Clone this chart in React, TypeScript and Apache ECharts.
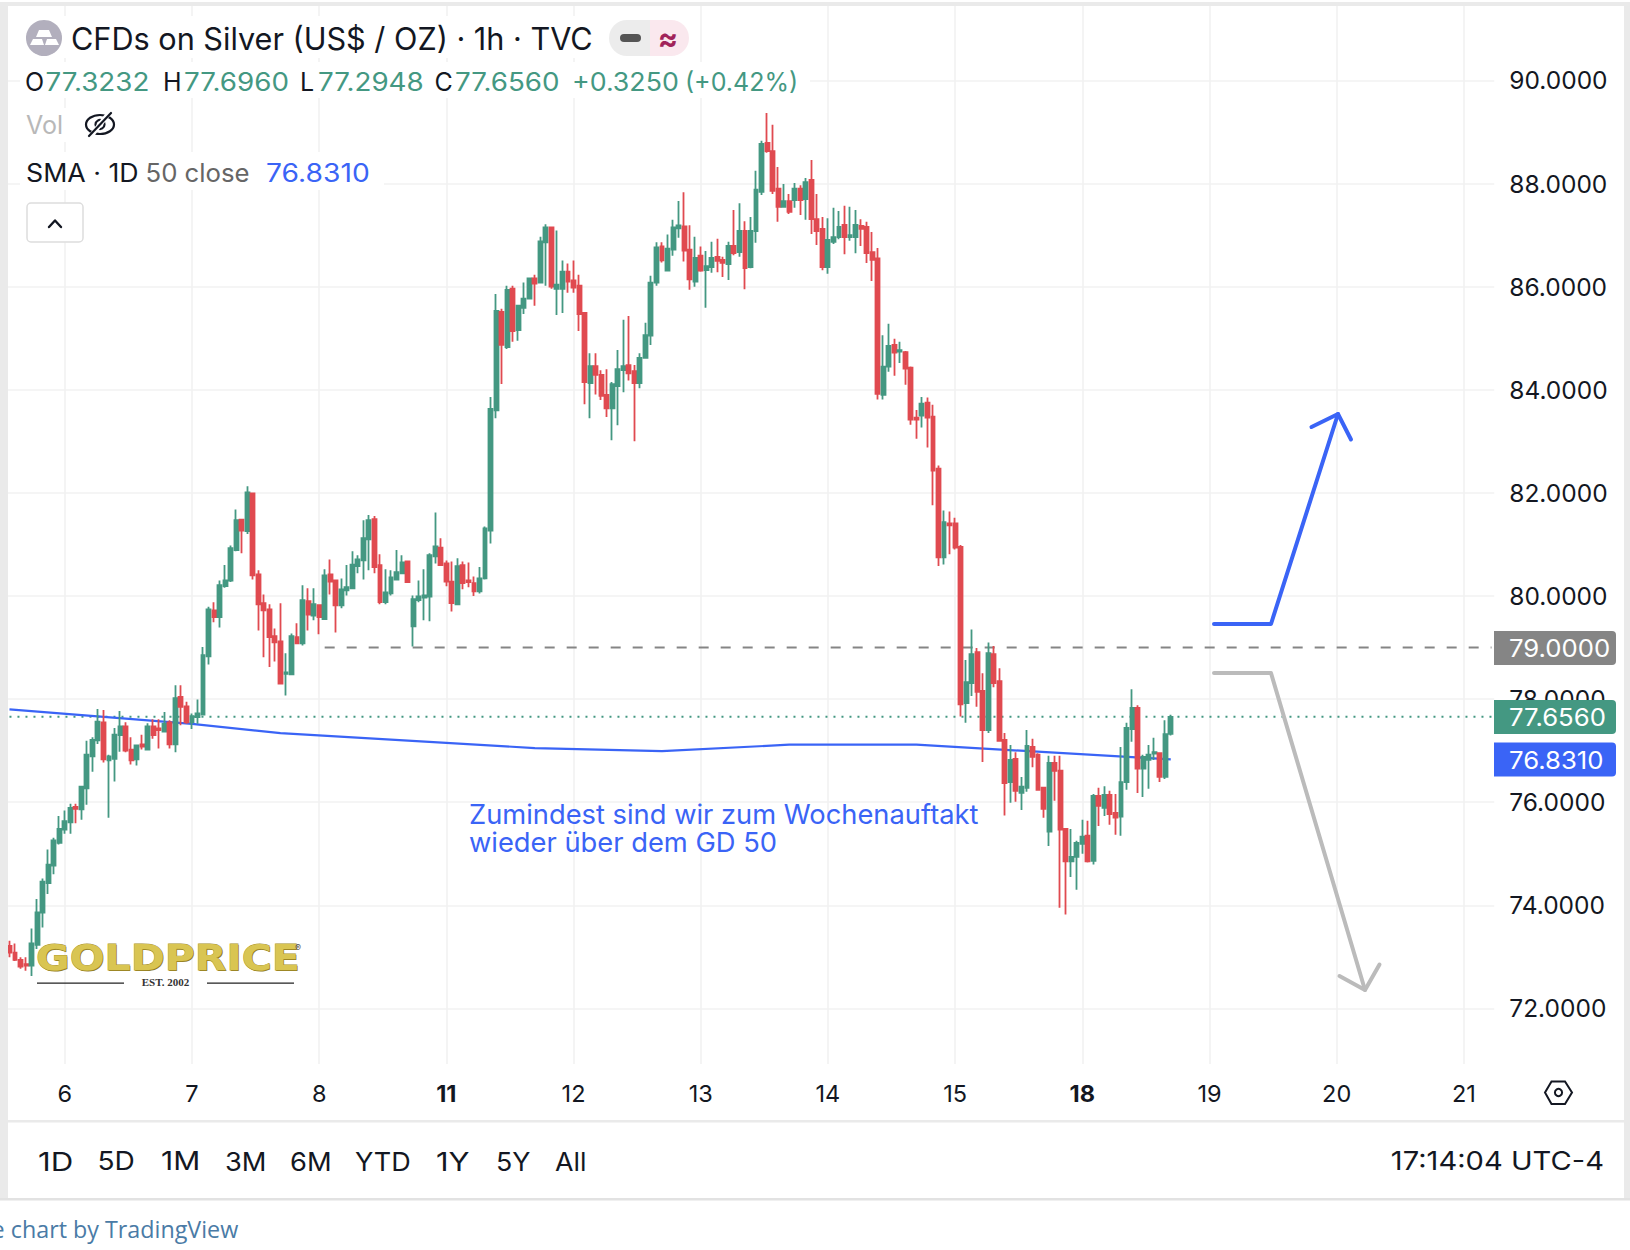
import React, { useEffect, useRef } from "react";
import * as echarts from "echarts";

const dayLabels = ["6", "7", "8", "11", "12", "13", "14", "15", "18", "19", "20", "21"];
const boldDays = ["11", "18"];
const priceTicks = [72, 74, 76, 78, 80, 82, 84, 86, 88, 90];

const opens = [
  73.21,73.08,72.94,72.86,72.83,73.23,73.86,74.43,74.77,75.21,
  75.47,75.61,75.91,75.86,76.27,76.89,77.20,77.55,76.81,76.84,
  77.30,77.47,77.02,76.83,77.12,77.02,77.47,77.43,77.37,77.55,
  77.12,78.04,77.86,77.55,77.65,77.70,78.83,79.72,79.59,80.19,
  80.30,80.89,81.48,81.26,81.99,80.42,79.86,79.74,79.22,79.12,
  78.49,78.48,79.20,79.08,79.90,79.62,79.82,79.55,80.42,80.30,
  79.82,80.11,80.15,80.58,80.69,81.10,81.49,80.60,79.88,80.05,
  80.32,80.44,80.67,79.41,79.92,79.97,79.99,80.77,80.94,80.63,
  80.28,79.84,80.60,80.30,80.25,80.09,80.34,81.27,83.60,85.51,
  84.83,85.96,85.16,85.59,85.77,86.16,86.08,86.86,87.15,85.96,
  85.96,86.29,86.12,86.02,85.49,84.13,84.46,84.29,83.90,83.64,
  84.07,84.38,84.48,84.36,84.13,84.62,85.05,86.08,86.78,86.31,
  86.72,87.13,87.17,86.72,86.10,86.60,86.32,86.38,86.58,86.52,
  86.44,86.79,86.67,87.08,86.38,87.08,87.84,88.79,88.63,87.90,
  87.55,87.66,87.68,87.90,87.70,88.07,87.31,87.12,86.38,86.87,
  86.96,87.20,86.96,86.96,87.18,87.16,86.67,86.55,83.90,84.45,
  84.87,84.74,84.73,84.43,83.46,83.50,83.75,83.48,82.47,80.75,
  81.41,81.41,80.95,77.92,78.31,78.91,78.16,77.40,78.87,78.35,
  77.21,76.39,76.84,76.18,76.28,77.07,76.92,76.28,75.43,76.76,
  76.61,75.48,74.85,74.94,75.19,75.35,74.86,76.12,75.89,76.14,
  75.79,75.72,76.39,77.42,77.83,76.65,76.82,76.94,76.95,76.49,
  77.3232,
];
const highs = [
  73.31,73.26,72.99,72.99,73.55,74.12,74.52,75.08,75.31,75.73,
  75.84,75.97,75.97,76.32,77.19,77.26,77.81,77.79,76.92,77.44,
  77.77,77.55,77.26,77.12,77.31,77.53,77.61,77.61,77.75,77.59,
  78.27,78.27,77.95,77.72,77.99,79.01,79.79,79.88,80.30,80.60,
  80.98,81.68,81.48,82.13,82.00,80.50,80.03,79.84,79.37,79.86,
  78.89,79.27,79.47,80.21,80.15,80.15,79.82,80.52,80.71,80.32,
  80.34,80.60,80.87,80.79,81.47,81.57,81.55,80.81,80.52,80.50,
  80.89,80.79,80.69,80.01,80.30,80.52,80.83,81.62,81.12,80.69,
  80.67,80.73,80.67,80.65,80.38,80.56,81.35,83.86,85.86,85.57,
  86.02,86.02,85.65,86.08,86.18,86.23,86.97,87.21,87.15,87.09,
  86.51,86.45,86.51,86.23,85.49,84.71,84.71,84.38,84.40,84.15,
  84.77,85.36,85.43,84.48,84.71,85.30,86.21,86.86,86.86,87.01,
  87.30,87.66,87.83,87.19,86.97,86.78,86.69,86.87,86.93,86.58,
  86.87,87.49,87.62,87.27,87.35,88.25,88.83,89.37,89.14,88.32,
  87.99,87.80,88.01,87.97,88.11,88.46,87.80,87.35,87.33,87.53,
  87.47,87.57,87.55,87.49,87.31,87.26,87.06,86.75,85.06,85.28,
  84.99,84.93,84.75,84.45,83.61,83.86,83.85,83.71,82.53,81.66,
  81.64,81.52,80.99,78.76,79.35,78.99,78.50,79.10,79.03,78.60,
  77.34,77.11,76.97,76.49,77.40,77.23,76.95,76.28,76.90,76.90,
  76.90,75.48,75.48,75.25,75.66,75.64,76.16,76.28,76.31,76.22,
  76.16,77.07,77.54,78.19,77.88,76.92,77.11,77.25,76.97,77.59,
  77.696,
];
const lows = [
  72.99,72.92,72.77,72.73,72.63,73.15,73.57,74.22,74.60,75.18,
  75.39,75.39,75.59,75.66,75.95,76.59,77.13,76.77,75.70,76.40,
  76.98,76.97,76.73,76.71,77.02,77.02,77.23,77.04,77.35,77.04,
  76.97,77.49,77.52,77.42,77.52,77.68,78.67,79.49,79.39,80.16,
  80.27,80.87,80.83,81.20,80.32,79.33,78.81,78.62,78.73,78.30,
  78.07,78.46,79.08,79.04,79.33,79.53,79.26,79.55,80.03,79.29,
  79.76,80.01,80.15,80.44,80.32,80.50,80.44,79.84,79.84,80.01,
  80.32,80.42,80.25,79.02,79.88,79.53,79.51,80.63,80.60,80.19,
  79.70,79.82,80.13,80.17,80.00,80.05,80.32,81.02,83.45,84.11,
  84.79,84.93,84.95,85.47,85.75,85.63,86.08,86.02,85.96,85.45,
  85.49,85.88,85.88,85.14,83.72,83.45,83.91,83.80,83.47,83.02,
  83.31,83.95,84.18,83.00,84.03,84.60,84.87,86.02,86.47,86.31,
  86.60,86.95,86.49,85.94,86.00,86.29,85.59,86.27,86.28,86.19,
  86.13,86.61,86.58,85.95,86.36,86.85,87.78,88.60,87.80,87.26,
  87.53,87.41,87.53,87.39,87.30,87.02,86.81,86.32,86.25,86.83,
  86.92,86.63,86.89,86.65,86.79,86.46,86.11,83.81,83.81,84.35,
  84.27,84.52,84.10,83.32,83.05,83.27,82.88,81.76,80.58,80.61,
  80.81,80.90,77.66,77.54,78.06,77.85,76.78,77.34,78.23,77.17,
  75.74,75.99,76.01,75.85,76.20,76.68,76.24,75.70,75.15,76.03,
  73.95,73.82,74.55,74.30,75.00,74.83,74.79,75.54,75.73,75.56,
  75.37,75.35,76.24,77.17,76.18,76.10,76.26,76.82,76.39,76.45,
  77.2948,
];
const closes = [
  73.08,72.94,72.81,72.83,73.26,73.86,74.46,74.79,75.26,75.48,
  75.63,75.89,75.87,76.30,76.92,77.21,77.56,76.83,76.89,77.31,
  77.47,77.00,76.81,77.10,77.08,77.47,77.30,77.40,77.52,77.12,
  78.02,77.85,77.55,77.67,77.72,78.85,79.74,79.59,80.21,80.30,
  80.93,81.47,81.27,82.01,80.40,79.84,79.72,79.20,79.10,78.30,
  78.52,79.22,79.08,79.92,79.64,79.84,79.59,80.40,80.28,79.82,
  80.13,80.17,80.61,80.71,81.12,81.47,80.56,79.88,80.07,80.36,
  80.46,80.65,80.27,79.94,79.99,80.01,80.79,80.96,80.60,80.28,
  79.86,80.58,80.25,80.27,80.09,80.34,81.31,83.63,85.53,84.87,
  85.94,85.14,85.63,85.77,86.16,86.06,86.88,87.15,86.00,86.04,
  86.29,86.10,85.98,85.47,84.15,84.46,84.29,83.88,83.64,84.11,
  84.40,84.46,84.32,84.13,84.62,85.06,86.08,86.76,86.51,86.74,
  87.15,87.19,86.70,86.14,86.56,86.31,86.40,86.56,86.50,86.46,
  86.79,86.65,87.08,86.36,87.08,87.88,88.77,88.63,87.86,87.55,
  87.66,87.45,87.90,87.68,88.03,87.31,87.08,86.38,86.91,86.96,
  87.16,86.96,87.00,87.20,87.12,86.65,86.52,83.92,84.45,84.85,
  84.72,84.77,84.41,83.42,83.42,83.73,83.46,82.43,80.75,81.43,
  81.37,80.94,77.90,78.33,78.87,78.14,77.40,78.89,78.31,77.19,
  76.37,76.82,76.22,76.30,77.09,76.88,76.24,75.87,76.76,76.61,
  75.47,74.85,74.94,75.21,75.33,74.85,76.12,75.93,76.14,75.77,
  75.70,76.39,77.44,77.83,76.65,76.88,76.92,76.97,76.49,77.32,
  77.656,
];

const smaBars = [0, 33, 49, 95, 118, 141, 164, 210];
const smaValues = [77.8, 77.52, 77.34, 77.05, 76.99, 77.115, 77.115, 76.831];
const resistance = 79;
const lastClose = 77.656;
const resistanceFromBar = 57;
const lastSlot = 268;

const rangeButtons = ["1D", "5D", "1M", "3M", "6M", "YTD", "1Y", "5Y", "All"];
const rangeX = [38, 97.5, 161, 225, 290, 355, 436, 496, 555];
const rangeStretch = [1.2, 1.08, 1.15, 1.05, 1.05, 1.04, 1.19, 1.03, 1.03];

const GREEN = "#449882";
const RED = "#E04A50";
const BLUE = "#3A64F6";
const GRAY_LEVEL = "#858585";
const FRAME = "#EAEAEA";
const GRID = "#F2F2F2";
const INK = "#131722";
const FONT = "Inter";

const SLOTS = 269;
const BARS_PER_DAY = 23;
const FIRST_DAY_BAR = 10;

function buildCategories(): string[] {
  const cats: string[] = new Array(SLOTS).fill("");
  dayLabels.forEach((d, i) => {
    cats[FIRST_DAY_BAR + i * BARS_PER_DAY] = d;
  });
  return cats;
}

function txt(x: number, y: number, text: string, fill: string, size: number, extra: any = {}) {
  return {
    type: "text",
    x,
    y,
    z: 60,
    silent: true,
    style: {
      text,
      fill,
      font: `${extra.weight || "normal"} ${size}px ${extra.family || FONT}`,
      textAlign: extra.align || "left",
      textVerticalAlign: "middle",
    },
    ...(extra.scaleX ? { scaleX: extra.scaleX, originX: 0, originY: 0 } : {}),
  };
}
function box(x: number, y: number, width: number, height: number, fill: string, z = 50, r: any = 0) {
  return { type: "rect", z, silent: true, shape: { x, y, width, height, r }, style: { fill } };
}
function poly(points: number[][], stroke: string, lineWidth: number, z = 55) {
  return {
    type: "polyline",
    z,
    silent: true,
    shape: { points },
    style: { stroke, lineWidth, fill: "none", lineCap: "round", lineJoin: "round" },
  };
}

function buildGraphics() {
  const g: any[] = [];
  // legend backgrounds
  g.push(box(20, 62, 790, 36, "#fff"));
  g.push(box(20, 152, 364, 38, "#fff"));
  g.push(box(20, 108, 110, 34, "#fff"));
  g.push(box(20, 16, 680, 42, "#fff"));

  // frame
  g.push(box(0, 2, 1630, 4, FRAME, 90));
  g.push(box(0, 2, 8, 1198, FRAME, 90));
  g.push(box(1624, 2, 6, 1198, FRAME, 90));
  g.push(box(8, 1120, 1616, 2.5, FRAME, 90));
  g.push(box(0, 1198, 1630, 2.5, "#E2E2E2", 90));

  // symbol icon
  g.push({ type: "circle", z: 55, silent: true, shape: { cx: 44, cy: 38, r: 18 }, style: { fill: "#B2AFBD" } });
  g.push({ type: "polygon", z: 56, silent: true, shape: { points: [[39, 30], [49, 30], [52, 37], [36, 37]] }, style: { fill: "#fff" } });
  g.push({ type: "polygon", z: 56, silent: true, shape: { points: [[33, 39], [42, 39], [44, 45], [30, 45]] }, style: { fill: "#fff" } });
  g.push({ type: "polygon", z: 56, silent: true, shape: { points: [[47, 39], [56, 39], [59, 45], [45, 45]] }, style: { fill: "#fff" } });

  g.push(txt(71, 38, "CFDs on Silver (US$ / OZ) · 1h · TVC", INK, 31, { scaleX: 0.988 }));

  // status pill
  g.push(box(609, 20, 41, 36, "#ECECEC", 55, [18, 0, 0, 18]));
  g.push(box(650, 20, 39, 36, "#FAE8EE", 55, [0, 18, 18, 0]));
  g.push(box(620, 34, 21, 8, "#555555", 56, 4));
  g.push(txt(668, 38, "≈", "#A1235A", 30, { align: "center", weight: "bold" }));

  // OHLC row
  const rowY = 82;
  const wide = { scaleX: 1.11 };
  g.push(txt(25, rowY, "O", INK, 25));
  g.push(txt(45.5, rowY, "77.3232", GREEN, 25, wide));
  g.push(txt(163, rowY, "H", INK, 25));
  g.push(txt(184, rowY, "77.6960", GREEN, 25, wide));
  g.push(txt(300, rowY, "L", INK, 25));
  g.push(txt(318, rowY, "77.2948", GREEN, 25, wide));
  g.push(txt(434.5, rowY, "C", INK, 25));
  g.push(txt(455, rowY, "77.6560", GREEN, 25, wide));
  g.push(txt(572, rowY, "+0.3250", GREEN, 25, { scaleX: 1.07 }));
  g.push(txt(685, rowY, "(+0.42%)", GREEN, 25));

  // Vol row
  g.push(txt(26, 125, "Vol", "#B8B8B8", 25));
  g.push({ type: "ellipse", z: 56, silent: true, shape: { cx: 100, cy: 124.5, rx: 14, ry: 9.5 }, style: { fill: "none", stroke: INK, lineWidth: 2.2 } });
  g.push({ type: "circle", z: 56, silent: true, shape: { cx: 100, cy: 124.5, r: 4.5 }, style: { fill: "none", stroke: INK, lineWidth: 2.2 } });
  g.push({ type: "line", z: 57, silent: true, shape: { x1: 109, y1: 113, x2: 91, y2: 136 }, style: { stroke: "#fff", lineWidth: 5 } });
  g.push({ type: "line", z: 58, silent: true, shape: { x1: 111, y1: 113, x2: 89, y2: 136 }, style: { stroke: INK, lineWidth: 2.2, lineCap: "round" } });

  // SMA row
  g.push(txt(26, 173, "SMA · 1D", INK, 25, { scaleX: 1.07 }));
  g.push(txt(145.5, 173, "50 close", "#666666", 25, { scaleX: 1.03 }));
  g.push(txt(266, 173, "76.8310", BLUE, 25, { scaleX: 1.13 }));

  // collapse button
  g.push({ type: "rect", z: 55, silent: true, shape: { x: 27, y: 203, width: 56, height: 39, r: 4 }, style: { fill: "#fff", stroke: "#DDDDDD", lineWidth: 1.5 } });
  g.push(poly([[49, 227], [55, 220.5], [61, 227]], INK, 2.4, 56));

  // annotation
  g.push(txt(469, 814, "Zumindest sind wir zum Wochenauftakt", BLUE, 27.3));
  g.push(txt(469, 842, "wieder über dem GD 50", BLUE, 27.3));

  // arrows
  g.push(poly([[1214, 624], [1271, 624], [1338, 414]], BLUE, 4));
  g.push(poly([[1311.5, 427], [1338, 414], [1351, 439.5]], BLUE, 4));
  g.push(poly([[1214, 673], [1271, 673], [1365, 990]], "#BBBBBB", 4));
  g.push(poly([[1339.5, 976], [1365, 990], [1379.5, 964.5]], "#BBBBBB", 4));

  // price tags
  const tags: [number, string, string][] = [
    [631, "79.0000", GRAY_LEVEL],
    [700, "77.6560", GREEN],
    [742.5, "76.8310", BLUE],
  ];
  tags.forEach(([y, t, c]) => {
    g.push(box(1494, y, 122, 34, c, 60, [0, 4, 4, 0]));
    const el: any = txt(1509, y + 17.5, t, "#fff", 24.5, { scaleX: 1.05 });
    el.z = 61;
    g.push(el);
  });

  // settings hexagon
  g.push({
    type: "polygon",
    z: 55,
    silent: true,
    shape: { points: [[1545, 1092.5], [1551.5, 1081.5], [1565, 1081.5], [1572, 1092.5], [1565, 1104], [1551.5, 1104]] },
    style: { fill: "none", stroke: INK, lineWidth: 2 },
  });
  g.push({ type: "circle", z: 55, silent: true, shape: { cx: 1558.5, cy: 1092.5, r: 3.6 }, style: { fill: "none", stroke: INK, lineWidth: 2 } });

  // range bar
  rangeButtons.forEach((t, i) => g.push(txt(rangeX[i], 1161, t, INK, 26, { scaleX: rangeStretch[i] })));
  g.push(txt(1604, 1161, "17:14:04 UTC-4", INK, 26, { align: "right", scaleX: 1.12 }));
  g.push(txt(-8.4, 1229, "e chart by TradingView", "#4A7BA6", 23.3, { family: "'Open Sans'" }));

  // goldprice logo: layered text gives the metallic edge
  const logo = (dx: number, dy: number, fill: string, z: number, stroke?: string) => ({
    type: "text",
    x: 36 + dx,
    y: 957 + dy,
    z,
    silent: true,
    scaleX: 1.14,
    style: {
      text: "GOLDPRICE",
      font: "bold 36px 'DejaVu Sans'",
      textVerticalAlign: "middle",
      fill,
      ...(stroke ? { stroke, lineWidth: 0.8 } : {}),
    },
  });
  g.push(logo(0.8, 1.2, "#8E7A1E", 40));
  g.push(logo(0, 0, "#D9C552", 41, "#A8922C"));
  g.push(txt(298, 947, "®", "#555555", 9, { align: "center" }));
  g.push(box(37, 982.5, 87, 1.3, "#222222", 40));
  g.push(box(207, 982.5, 87, 1.3, "#222222", 40));
  g.push(txt(165.5, 982, "EST. 2002", "#333333", 11, { align: "center", family: "'Liberation Serif'", weight: "bold" }));
  return g;
}

export default function App() {
  const ref = useRef<HTMLDivElement | null>(null);
  useEffect(() => {
    document.body.style.margin = "0";
    document.body.style.overflow = "hidden";
    const chart = echarts.init(ref.current!, undefined, { renderer: "svg" });
    const bars = opens.map((o, i) => [o, closes[i], lows[i], highs[i]]);
    const showDay = (_i: number, v: string) => v !== "";
    chart.setOption({
      animation: false,
      backgroundColor: "#fff",
      grid: { left: 6.7, top: 6, width: 5.53 * SLOTS, height: 1058, containLabel: false },
      xAxis: {
        type: "category",
        data: buildCategories(),
        boundaryGap: true,
        axisLine: { show: false },
        axisTick: { show: false },
        axisLabel: {
          interval: showDay,
          margin: 17,
          hideOverlap: false,
          color: INK,
          fontFamily: FONT,
          fontSize: 23.5,
          formatter: (v: string) => (boldDays.includes(v) ? `{b|${v}}` : v),
          rich: { b: { fontWeight: "bold", fontFamily: FONT, fontSize: 23.5, color: INK } },
        },
        splitLine: { show: true, interval: showDay, alignWithLabel: true, lineStyle: { color: GRID, width: 1.6 } },
      },
      yAxis: {
        type: "value",
        position: "right",
        min: 70.921,
        max: 91.445,
        axisLine: { show: false },
        axisTick: { show: false, customValues: priceTicks },
        axisLabel: {
          customValues: priceTicks,
          margin: 15,
          color: INK,
          fontFamily: FONT,
          fontSize: 24.5,
          align: "left",
          formatter: (v: number) => v.toFixed(4),
        },
        splitLine: { show: true, lineStyle: { color: GRID, width: 1.6 } },
      },
      graphic: buildGraphics(),
      series: [
        {
          type: "line",
          z: 2,
          silent: true,
          symbol: "none",
          data: [[resistanceFromBar, resistance], [lastSlot, resistance]],
          lineStyle: { color: GRAY_LEVEL, width: 2, type: [10, 12] },
        },
        {
          type: "line",
          z: 2,
          silent: true,
          symbol: "none",
          data: [[0, lastClose], [lastSlot, lastClose]],
          lineStyle: { color: GREEN, width: 2, type: [2, 6] },
        },
        {
          type: "line",
          z: 3,
          silent: true,
          symbol: "none",
          data: smaBars.map((b, i) => [b, smaValues[i]]),
          lineStyle: { color: BLUE, width: 2.2 },
        },
        {
          type: "candlestick",
          z: 4,
          silent: true,
          barWidth: 4.4,
          data: bars,
          itemStyle: { color: GREEN, color0: RED, borderColor: GREEN, borderColor0: RED, borderWidth: 1.8 },
        },
      ],
    });
    return () => chart.dispose();
  }, []);
  return <div ref={ref} style={{ position: "absolute", left: 0, top: 0, width: 1630, height: 1250 }} />;
}
